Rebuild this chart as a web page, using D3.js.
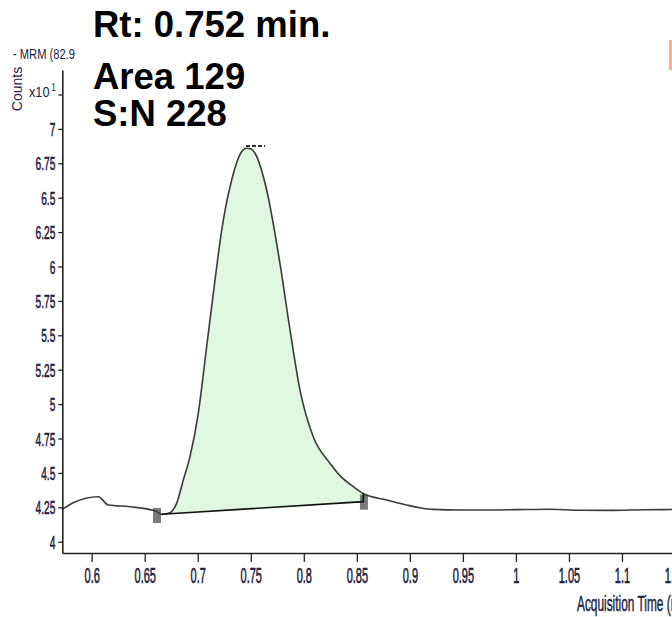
<!DOCTYPE html>
<html>
<head>
<meta charset="utf-8">
<script src="https://cdn.jsdelivr.net/npm/d3@7"></script>
<style>
  html, body { margin: 0; padding: 0; background: #fff; overflow: hidden; }
  svg { display: block; }
</style>
</head>
<body>
<svg id="chart" width="672" height="617"></svg>
<script>
// ---------------- data ----------------
const traceTimes = [0.5723, 0.5827, 0.6062, 0.6157, 0.6361, 0.6597, 0.6660, 0.6738, 0.6801, 0.6864,
  0.6927, 0.7005, 0.7084, 0.7163, 0.7226, 0.7320, 0.7414, 0.7461, 0.7500, 0.7540,
  0.7650, 0.7775, 0.7870, 0.7964, 0.8089, 0.8247, 0.8341, 0.8467, 0.8561, 0.8781,
  0.8970, 0.9095, 0.9221, 0.9473, 0.9800, 1.0000, 1.0300, 1.0600, 1.0900, 1.1200, 1.1600];
const traceCounts = [4.235, 4.283, 4.327, 4.267, 4.254, 4.225, 4.199, 4.211, 4.279, 4.448,
  4.618, 4.933, 5.417, 5.902, 6.265, 6.629, 6.834, 6.859, 6.855, 6.823,
  6.556, 6.023, 5.539, 5.102, 4.763, 4.570, 4.480, 4.400, 4.350, 4.303,
  4.267, 4.247, 4.235, 4.231, 4.231, 4.233, 4.236, 4.229, 4.228, 4.232, 4.234];
const peakStart = 0.6660, peakEnd = 0.8561;
const baselineTimes = [0.6660, 0.8561];
const baselineCounts = [4.200, 4.291];
const markerTimes = [0.6616, 0.8567];
const markerCounts = [4.194, 4.291];
const apexMarkTimes = [0.7455, 0.7635];
const apexMarkCount = 6.875;
const xTicks = [0.6, 0.65, 0.7, 0.75, 0.8, 0.85, 0.9, 0.95, 1, 1.05, 1.1, 1.15];
const yTicks = [4, 4.25, 4.5, 4.75, 5, 5.25, 5.5, 5.75, 6, 6.25, 6.5, 6.75, 7, 7.25];
const yTickLabels = ["4", "4.25", "4.5", "4.75", "5", "5.25", "5.5", "5.75", "6", "6.25", "6.5", "6.75", "7", ""];
const xTickLabels = ["0.6", "0.65", "0.7", "0.75", "0.8", "0.85", "0.9", "0.95", "1", "1.05", "1.1", "1.15"];
const infoLines = ["Rt: 0.752 min.", "Area 129", "S:N 228"];
const titleText = "- MRM (82.9";
const yTitle = "Counts";
const xTitle = "Acquisition Time (min)";

// ---------------- layout ----------------
const svg = d3.select("#chart");
const plotLeft = 62.3, plotBottom = 553, plotTop = 70;
const x = d3.scaleLinear().domain([0.5723, 1.16]).range([plotLeft, plotLeft + (1.16 - 0.5723) * 1060.6]);
const y = d3.scaleLinear().domain([3.918, 7.428]).range([plotBottom, plotTop]);
const labelColor = "#1f2340";
const fontFam = "'Liberation Sans', Arial, sans-serif";

svg.append("rect").attr("width", 672).attr("height", 617).attr("fill", "#fff");

const trace = traceTimes.map((t, i) => ({ t, v: traceCounts[i] }));
const baseAt = t => baselineCounts[0] + (t - baselineTimes[0]) / (baselineTimes[1] - baselineTimes[0]) * (baselineCounts[1] - baselineCounts[0]);
const peakPts = trace.filter(d => d.t >= peakStart - 1e-6 && d.t <= peakEnd + 1e-6);

// filled peak area
svg.append("path")
  .datum(peakPts)
  .attr("fill", "#e0f8e0")
  .attr("d", d3.area().x(d => x(d.t)).y0(d => y(baseAt(d.t))).y1(d => y(d.v)).curve(d3.curveMonotoneX));

// integration markers
svg.selectAll("rect.mk").data(markerTimes).enter().append("rect")
  .attr("class", "mk")
  .attr("x", d => x(d) - 4)
  .attr("y", (d, i) => y(markerCounts[i]) - 7)
  .attr("width", 8).attr("height", 15)
  .attr("fill", "#7a7a7a");

// chromatogram trace
svg.append("path")
  .datum(trace)
  .attr("fill", "none")
  .attr("stroke", "#3a3a3a")
  .attr("stroke-width", 1.6)
  .attr("d", d3.line().x(d => x(d.t)).y(d => y(d.v)).curve(d3.curveMonotoneX));

// baseline
const endCurve = peakPts[peakPts.length - 1].v;
const basePts = [
  { t: baselineTimes[0], v: baselineCounts[0] },
  { t: baselineTimes[1], v: baselineCounts[1] },
  { t: baselineTimes[1], v: endCurve }
];
svg.append("path")
  .datum(basePts)
  .attr("fill", "none")
  .attr("stroke", "#111")
  .attr("stroke-width", 1.6)
  .attr("d", d3.line().x(d => x(d.t)).y(d => y(d.v)));

// apex marker
svg.append("line")
  .attr("x1", x(apexMarkTimes[0])).attr("x2", x(apexMarkTimes[1]))
  .attr("y1", y(apexMarkCount)).attr("y2", y(apexMarkCount))
  .attr("stroke", "#333").attr("stroke-width", 2).attr("stroke-dasharray", "4,2");

// ---------------- axes ----------------
const sx = 0.5, sy = 0.55;
const xAxis = svg.append("g").attr("transform", `translate(0,${plotBottom})`)
  .call(d3.axisBottom(x).tickValues(xTicks).tickSize(9).tickSizeOuter(0)
    .tickFormat((d, i) => xTickLabels[i]));
xAxis.select(".domain").attr("stroke", "#222").attr("stroke-width", 1.6);
xAxis.selectAll(".tick line").attr("stroke", "#222").attr("stroke-width", 1.3);
xAxis.selectAll(".tick text")
  .attr("fill", labelColor)
  .attr("stroke", labelColor).attr("stroke-width", 0.7)
  .attr("font-family", fontFam)
  .attr("font-size", 22)
  .attr("y", 30).attr("dy", null)
  .attr("transform", `scale(${sx},1)`);

const yAxis = svg.append("g").attr("transform", `translate(${plotLeft},0)`)
  .call(d3.axisLeft(y).tickValues(yTicks).tickSize(4).tickSizeOuter(0)
    .tickFormat((d, i) => yTickLabels[i]));
yAxis.select(".domain").attr("stroke", "#222").attr("stroke-width", 1.6);
yAxis.selectAll(".tick line").attr("stroke", "#222").attr("stroke-width", 1.3);
yAxis.selectAll(".tick text")
  .attr("fill", labelColor)
  .attr("stroke", labelColor).attr("stroke-width", 0.6)
  .attr("font-family", fontFam)
  .attr("font-size", 18.5)
  .attr("x", -7 / sy)
  .attr("dy", "0.36em")
  .attr("transform", `scale(${sy},1)`);

// ---------------- texts ----------------
svg.append("text")
  .attr("transform", "translate(22,89) rotate(-90)")
  .attr("text-anchor", "middle")
  .attr("font-family", fontFam).attr("font-size", 14).attr("fill", labelColor)
  .text(yTitle);

const xt = svg.append("text")
  .attr("transform", "translate(29,97) scale(0.85,1)")
  .attr("font-family", fontFam).attr("font-size", 15).attr("fill", labelColor);
xt.append("tspan").text("x10");
xt.append("tspan").attr("dx", 2).attr("dy", -6).attr("font-size", 10).text("1");

svg.append("text")
  .attr("transform", "translate(13,59) scale(0.72,1)")
  .attr("font-family", fontFam).attr("font-size", 15.5).attr("fill", labelColor)
  .text(titleText);

svg.append("text")
  .attr("transform", "translate(577,611) scale(0.54,1)")
  .attr("font-family", fontFam).attr("font-size", 22).attr("fill", labelColor)
  .attr("stroke", labelColor).attr("stroke-width", 0.5)
  .text(xTitle);

const infoY = [37, 89, 126];
svg.selectAll("text.info").data(infoLines).enter().append("text")
  .attr("class", "info")
  .attr("x", 93).attr("y", (d, i) => infoY[i])
  .attr("font-family", fontFam).attr("font-weight", "bold").attr("font-size", 36.5)
  .attr("fill", "#000")
  .text(d => d);

// orange tag at right edge
svg.append("rect").attr("x", 669).attr("y", 40).attr("width", 6).attr("height", 30).attr("fill", "#f7b08a");
</script>
</body>
</html>
